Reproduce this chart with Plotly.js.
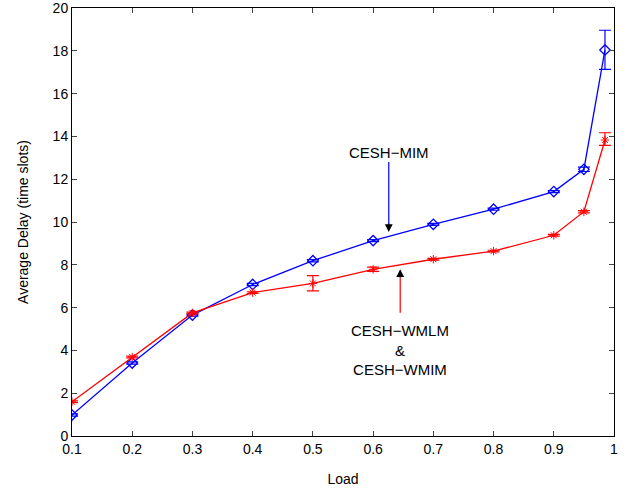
<!DOCTYPE html>
<html><head><meta charset="utf-8">
<script src="https://cdn.plot.ly/plotly-3.0.1.min.js"></script>
<style>html,body{margin:0;padding:0;background:#fff;}#chart{width:627px;height:491px;}</style>
</head><body><div id="chart"></div>
<script>
const load = [0.1, 0.2, 0.3, 0.4, 0.5, 0.6, 0.7, 0.8, 0.9, 0.95, 0.985];
const mimDelay = [0.98, 3.41, 5.65, 7.08, 8.19, 9.13, 9.89, 10.6, 11.42, 12.46, 18.04];
const mimErrPlus = [0.05, 0.05, 0.05, 0.05, 0.05, 0.05, 0.05, 0.05, 0.05, 0.1, 0.92];
const mimErrMinus = [0.05, 0.05, 0.05, 0.05, 0.05, 0.05, 0.05, 0.05, 0.05, 0.1, 0.91];
const wmDelay = [1.6, 3.69, 5.75, 6.7, 7.13, 7.79, 8.26, 8.64, 9.38, 10.48, 13.83];
const wmErrPlus = [0.04, 0.04, 0.04, 0.04, 0.36, 0.1, 0.04, 0.04, 0.04, 0.05, 0.34];
const wmErrMinus = [0.04, 0.04, 0.04, 0.04, 0.35, 0.1, 0.04, 0.04, 0.04, 0.05, 0.25];
const xTicks = [0.1, 0.2, 0.3, 0.4, 0.5, 0.6, 0.7, 0.8, 0.9, 1];
const xTickLabels = ["0.1", "0.2", "0.3", "0.4", "0.5", "0.6", "0.7", "0.8", "0.9", "1"];
const yTicks = [0, 2, 4, 6, 8, 10, 12, 14, 16, 18, 20];
const yTickLabels = ["0", "2", "4", "6", "8", "10", "12", "14", "16", "18", "20"];

const font = "Liberation Sans, Arial, sans-serif";
const traces = [
  {x: load, y: mimDelay, type: "scatter", mode: "lines+markers", name: "CESH-MIM",
   line: {color: "#0000ff", width: 1.3},
   marker: {symbol: "diamond-open", size: 8, color: "#0000ff", line: {width: 1.3, color: "#0000ff"}},
   error_y: {type: "data", symmetric: false, array: mimErrPlus, arrayminus: mimErrMinus, color: "#0000ff", thickness: 1.2, width: 6}},
  {x: load, y: wmDelay, type: "scatter", mode: "lines+markers", name: "CESH-WMLM & CESH-WMIM",
   line: {color: "#ff0000", width: 1.3},
   marker: {symbol: "asterisk-open", size: 7, color: "#ff0000", line: {width: 1, color: "#ff0000"}},
   error_y: {type: "data", symmetric: false, array: wmErrPlus, arrayminus: wmErrMinus, color: "#ff0000", thickness: 1.2, width: 6}}
];
const layout = {
  width: 627, height: 491,
  margin: {l: 72, r: 13, t: 8, b: 55},
  paper_bgcolor: "#fff", plot_bgcolor: "#fff",
  showlegend: false,
  font: {family: font, size: 14, color: "#000"},
  xaxis: {range: [0.1, 1], tickvals: xTicks, ticktext: xTickLabels, ticks: "inside", ticklen: 5,
    showgrid: false, zeroline: false, showline: true, linecolor: "#000", linewidth: 1, mirror: "ticks",
    tickfont: {size: 14}, title: {text: "Load", font: {size: 14}, standoff: 18}},
  yaxis: {range: [0, 20.0001], tickvals: yTicks, ticktext: yTickLabels, ticks: "inside", ticklen: 5,
    ticklabeloverflow: "allow",
    showgrid: false, zeroline: false, showline: true, linecolor: "#000", linewidth: 1, mirror: "ticks",
    tickfont: {size: 14}, title: {text: "Average Delay (time slots)", font: {size: 14}, standoff: 20}},
  shapes: [
    {type: "line", xref: "x", yref: "y", x0: 0.626, x1: 0.626, y0: 12.8, y1: 9.9, line: {color: "#0000ff", width: 1.2}},
    {type: "line", xref: "x", yref: "y", x0: 0.645, x1: 0.645, y0: 5.76, y1: 7.4, line: {color: "#ff0000", width: 1.2}}
  ],
  annotations: [
    {xref: "x", yref: "y", x: 0.626, y: 9.53, ax: 0, ay: -10, showarrow: true, arrowhead: 2, arrowsize: 1.3, arrowwidth: 1.2, arrowcolor: "#000", text: ""},
    {xref: "x", yref: "y", x: 0.645, y: 7.79, ax: 0, ay: 10, showarrow: true, arrowhead: 2, arrowsize: 1.3, arrowwidth: 1.2, arrowcolor: "#000", text: ""},
    {xref: "x", yref: "y", x: 0.626, y: 13.27, text: "CESH\u2212MIM", showarrow: false, font: {size: 15}, yanchor: "middle"},
    {xref: "x", yref: "y", x: 0.645, y: 5.4, text: "CESH\u2212WMLM<br>&amp;<br>CESH\u2212WMIM", showarrow: false, font: {size: 15}, yanchor: "top"}
  ]
};
Plotly.newPlot("chart", traces, layout, {displayModeBar: false, staticPlot: true});
</script></body></html>
